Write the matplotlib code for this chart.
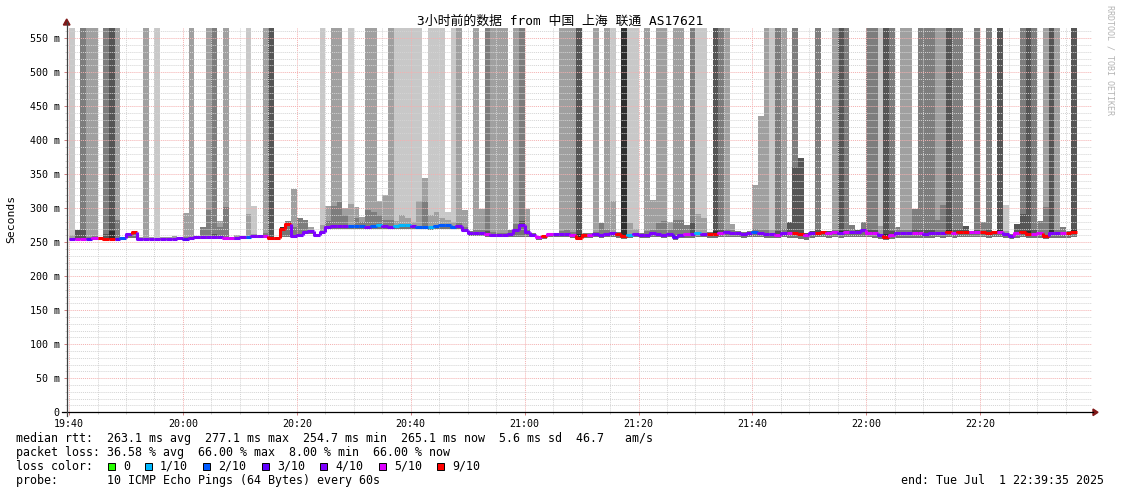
import numpy as np
import matplotlib
matplotlib.use("Agg")
import matplotlib.pyplot as plt
from matplotlib.collections import LineCollection
from matplotlib.patches import Rectangle, Polygon
from matplotlib.lines import Line2D
from matplotlib.ticker import FixedLocator, MultipleLocator, FuncFormatter

# ---------------------------------------------------------------------------
# Daten: ein Wert pro Minute ab 19:40 (Median, Verlust, Rauch-Obergrenzen)
# ---------------------------------------------------------------------------
MEDIAN_MS = [
    255.5, 255.5, 255.5, 255, 256.5, 256, 255.5, 255.5, 255.5, 256,
    262, 264.5, 255.5, 255.5, 255.5, 255.5, 255.5, 255.5, 255.5, 256,
    254.5, 256, 257, 257.8, 257.8, 257.8, 257, 256, 256, 256,
    257, 257.8, 259, 259, 259.5, 256, 256, 270, 276.5, 259,
    261, 265.5, 266, 261, 265.5, 273, 274, 274, 274, 274,
    274, 274, 273, 274, 275, 273.5, 273, 274, 275, 275,
    274, 273, 273, 272, 274, 275, 275, 273, 274.5, 268.5,
    263, 263, 263, 262, 261, 260.8, 260.8, 261.5, 268.5, 276,
    264.7, 261, 257, 259, 262, 262, 261.5, 261.5, 260, 256,
    260, 261, 261.5, 260, 261.5, 263, 262, 259, 261, 262,
    261, 261, 264, 262.5, 261, 262.5, 257.5, 260.5, 262, 262.5,
    264, 262.5, 262, 262, 263, 265.5, 264, 263, 262, 263,
    265.5, 263, 262.5, 261.5, 261, 264, 263, 263, 262, 260,
    263, 264, 264.5, 263, 264.5, 263, 264.5, 265.5, 265, 267.5,
    264, 263, 260, 257, 260, 263, 263, 263.5, 263.5, 263,
    262.5, 263, 264, 263, 265, 263, 264.5, 265.5, 264.5, 264.5,
    264.5, 263, 265, 265, 262, 259, 263.5, 265, 261.5, 262.5,
    263, 259, 263, 263, 263.5, 263, 265,
]

LOSS = [
    4, 5, 5, 3, 5, 9, 9, 9, 3, 2,
    4, 9, 4, 4, 4, 4, 4, 4, 4, 4,
    3, 4, 4, 4, 4, 4, 4, 5, 5, 4,
    4, 2, 4, 4, 5, 9, 9, 9, 9, 4,
    4, 4, 4, 4, 4, 4, 4, 4, 4, 2,
    2, 2, 4, 2, 1, 4, 4, 1, 1, 1,
    4, 2, 2, 1, 2, 2, 2, 2, 4, 4,
    4, 4, 4, 5, 4, 4, 4, 4, 4, 4,
    4, 4, 5, 9, 5, 4, 4, 4, 5, 9,
    9, 5, 4, 4, 4, 4, 9, 9, 1, 4,
    4, 4, 4, 4, 4, 4, 3, 4, 5, 4,
    1, 4, 9, 9, 5, 4, 4, 4, 4, 4,
    2, 4, 4, 4, 5, 4, 5, 9, 9, 5,
    4, 9, 9, 5, 5, 4, 5, 4, 4, 4,
    5, 5, 4, 9, 5, 4, 4, 4, 5, 5,
    4, 4, 4, 4, 9, 5, 9, 9, 5, 5,
    9, 9, 9, 5, 4, 4, 5, 9, 9, 5,
    5, 9, 4, 4, 5, 9, 9,
]

# obere Rauchgrenze (600 = oberhalb des Diagramms)
SMOKE_TOP_MS = [
    600, 268, 600, 600, 600, 258, 600, 600, 600, 258,
    264, 266, 257, 600, 257, 600, 257, 257, 259, 257,
    293, 600, 259, 273, 600, 600, 281, 600, 257, 260,
    258, 600, 304, 260, 600, 600, 257, 272, 281, 328,
    285, 282, 273, 262, 600, 303, 600, 600, 300, 600,
    302, 287, 600, 600, 311, 319, 600, 600, 600, 600,
    600, 600, 344, 600, 600, 600, 294, 600, 600, 297,
    266, 600, 299, 600, 600, 600, 600, 268, 600, 600,
    299, 264, 259, 261, 264, 264, 600, 600, 600, 600,
    263, 263, 600, 278, 600, 600, 265, 600, 600, 600,
    264, 600, 312, 600, 600, 280, 600, 600, 275, 600,
    600, 600, 265, 600, 600, 600, 277, 266, 265, 266,
    334, 435, 600, 600, 600, 600, 280, 600, 374, 263,
    266, 600, 267, 266, 600, 600, 600, 275, 268, 280,
    600, 600, 600, 600, 600, 272, 600, 600, 299, 600,
    600, 600, 600, 600, 600, 600, 600, 274, 266, 600,
    280, 600, 267, 600, 305, 262, 277, 600, 600, 600,
    281, 600, 600, 600, 272, 266, 600,
]

# Grauton der oberen Rauchsaeule (0 = hell ... 4 = dunkel)
SMOKE_SHADE = [
    0, 3, 2, 1, 1, 1, 2, 3, 1, 1,
    4, 4, 1, 1, 1, 0, 1, 1, 1, 1,
    1, 1, 1, 2, 1, 2, 1, 1, 1, 1,
    1, 0, 0, 1, 1, 3, 1, 4, 2, 1,
    2, 2, 1, 1, 0, 1, 1, 1, 1, 0,
    1, 1, 1, 1, 1, 1, 1, 0, 0, 0,
    0, 0, 1, 0, 0, 0, 0, 0, 1, 1,
    2, 1, 1, 2, 1, 1, 1, 2, 1, 2,
    1, 2, 2, 3, 2, 2, 1, 1, 1, 3,
    2, 2, 1, 2, 1, 0, 2, 4, 0, 0,
    2, 1, 1, 1, 1, 1, 1, 1, 2, 2,
    0, 0, 2, 3, 2, 1, 1, 2, 2, 2,
    1, 1, 1, 0, 2, 1, 3, 2, 3, 3,
    3, 2, 3, 3, 1, 3, 2, 2, 3, 2,
    2, 2, 0, 3, 2, 2, 1, 1, 2, 2,
    2, 2, 1, 1, 3, 2, 2, 3, 2, 2,
    2, 2, 2, 3, 0, 2, 3, 2, 3, 2,
    2, 1, 3, 1, 2, 2, 3,
]

# dunklerer Kernrauch oberhalb des Medians (0 = keiner)
SMOKE_MID_MS = [
    260, 0, 268, 258, 259, 0, 262, 266, 283, 0,
    0, 0, 0, 0, 0, 0, 0, 0, 0, 0,
    258, 258, 0, 0, 298, 262, 273, 302, 0, 0,
    0, 291, 262, 0, 263, 258, 0, 0, 278, 272,
    0, 0, 0, 0, 276, 281, 303, 309, 290, 306,
    285, 280, 298, 295, 290, 282, 283, 281, 290, 285,
    280, 310, 311, 290, 294, 286, 282, 280, 279, 272,
    0, 268, 268, 266, 265, 264, 264, 0, 277, 281,
    269, 0, 0, 0, 0, 0, 266, 268, 265, 262,
    0, 0, 265, 0, 268, 311, 0, 263, 279, 270,
    0, 266, 268, 279, 281, 268, 283, 283, 0, 280,
    291, 285, 0, 266, 268, 270, 268, 0, 0, 0,
    270, 268, 268, 268, 266, 270, 0, 361, 0, 0,
    0, 268, 0, 0, 268, 266, 268, 0, 0, 270,
    270, 268, 274, 262, 266, 0, 268, 268, 270, 268,
    268, 268, 283, 305, 270, 268, 268, 0, 0, 268,
    0, 268, 0, 268, 266, 0, 0, 292, 266, 268,
    0, 302, 268, 268, 0, 0, 270,
]

# untere Rauchgrenze
SMOKE_LOW_MS = [
    254, 254, 254, 253, 254, 254, 253, 253, 254, 254,
    256, 256, 254, 254, 254, 254, 254, 254, 254, 254,
    253, 254, 255, 255, 255, 255, 255, 254, 254, 254,
    255, 255, 256, 256, 256, 254, 254, 257, 257, 257,
    258, 262, 262, 258, 262, 270, 270, 270, 270, 270,
    270, 269, 269, 270, 270, 269, 269, 270, 270, 270,
    270, 269, 269, 268, 270, 270, 270, 269, 270, 265,
    259, 259, 259, 258, 257, 257, 257, 257, 258, 258,
    258, 257, 254, 255, 257, 257, 257, 257, 256, 254,
    256, 256, 257, 256, 257, 257, 256, 255, 256, 257,
    256, 256, 258, 257, 256, 257, 254, 256, 256, 256,
    257, 257, 256, 256, 257, 258, 257, 257, 256, 257,
    258, 257, 256, 256, 256, 257, 256, 256, 255, 254,
    256, 257, 257, 256, 257, 256, 257, 258, 258, 258,
    257, 256, 255, 254, 255, 256, 256, 256, 256, 256,
    256, 256, 257, 256, 257, 256, 257, 258, 257, 257,
    257, 256, 257, 257, 256, 255, 256, 257, 256, 256,
    256, 255, 256, 256, 256, 256, 257,
]

TIME_TICKS = [0, 20, 40, 60, 80, 100, 120, 140, 160]
TIME_LABELS = ["19:40", "20:00", "20:20", "20:40", "21:00",
               "21:20", "21:40", "22:00", "22:20"]

LOSS_STEPS = [0, 1, 2, 3, 4, 5, 9]
LOSS_NAMES = ["0", "1/10", "2/10", "3/10", "4/10", "5/10", "9/10"]

SHADES = ["#c8c8c8", "#a0a0a0", "#7d7d7d", "#555555", "#2e2e2e"]
LOSS_COLORS = {0: "#26ff00", 1: "#00b8ff", 2: "#0059ff", 3: "#5e00ff",
               4: "#7e00ff", 5: "#dd00ff", 9: "#ff0000"}

W, H = 1121, 494
MONO = "DejaVu Sans Mono"


def fx(px):
    return px / W


def fy(py):
    return 1 - py / H


fig = plt.figure(figsize=(W / 100, H / 100), dpi=100)
fig.patch.set_facecolor("white")
ax = fig.add_axes([fx(66.7), fy(412.3), 1025 / W, 384.3 / H])

med = np.array(MEDIAN_MS, dtype=float)
top = np.array(SMOKE_TOP_MS, dtype=float)
mid = np.array(SMOKE_MID_MS, dtype=float)
low = np.array(SMOKE_LOW_MS, dtype=float)
shade = np.array(SMOKE_SHADE)
x = np.arange(len(med))

# Rauch: obere Saeule, Kern, unterer Rand
ax.bar(x, top - med, bottom=med, width=1, align="edge",
       color=[SHADES[s] for s in shade], linewidth=0, zorder=1)
m = mid > 0
ax.bar(x[m], mid[m] - med[m], bottom=med[m], width=1, align="edge",
       color=[SHADES[min(s + 1, 4)] for s in shade[m]], linewidth=0, zorder=1.1)
ax.bar(x, med - low, bottom=low, width=1, align="edge",
       color="#747474", linewidth=0, zorder=1.2)

# Median als Stufenlinie, eingefaerbt nach Paketverlust
segs = []
for i in range(len(med)):
    prev = med[i - 1] if i > 0 else med[i]
    segs.append([(x[i], prev), (x[i], med[i]), (x[i] + 1, med[i])])
lc = LineCollection(segs, colors=[LOSS_COLORS[l] for l in LOSS],
                    linewidths=2.2, zorder=4, capstyle="butt")
ax.add_collection(lc)

ax.set_xlim(-0.417, 179.583)
ax.set_ylim(0, 565)

ax.xaxis.set_major_locator(FixedLocator(TIME_TICKS))
ax.xaxis.set_minor_locator(MultipleLocator(5))
ax.set_xticklabels(TIME_LABELS, family=MONO, fontsize=7.2)
ax.yaxis.set_major_locator(MultipleLocator(50))
ax.yaxis.set_minor_locator(MultipleLocator(10))
ax.yaxis.set_major_formatter(FuncFormatter(lambda v, p: "0" if v == 0 else f"{int(v)} m"))
for lab in ax.get_yticklabels():
    lab.set_family(MONO)
    lab.set_fontsize(7.2)

ax.set_axisbelow(False)
ax.grid(which="minor", color="#d4d4d4", linestyle=(0, (1, 1)), linewidth=0.7)
ax.grid(which="major", color="#f4b0b0", linestyle=(0, (1, 1)), linewidth=0.7)
ax.tick_params(which="major", length=2.5, width=0.7, color="#d08080", pad=2.5)
ax.tick_params(which="minor", length=1.5, width=0.6, color="#c8c8c8")
ax.tick_params(axis="x", which="major", pad=2)

for s in ["top", "right", "left", "bottom"]:
    ax.spines[s].set_visible(False)

# Achsen mit Pfeilen wie bei rrdtool
fig.lines.append(Line2D([fx(62), fx(1093)], [fy(412.3), fy(412.3)],
                        color="black", linewidth=0.9, transform=fig.transFigure))
fig.lines.append(Line2D([fx(66.7), fx(66.7)], [fy(416), fy(22)],
                        color="#404040", linewidth=0.9, transform=fig.transFigure))
fig.patches.append(Polygon([(fx(1093), fy(409)), (fx(1098), fy(412.3)), (fx(1093), fy(415.6))],
                           closed=True, color="#801818", transform=fig.transFigure))
fig.patches.append(Polygon([(fx(63.4), fy(25)), (fx(66.7), fy(19)), (fx(70), fy(25))],
                           closed=True, color="#801818", transform=fig.transFigure))

# Titel und Beschriftungen
fig.text(0.5, fy(21), "3小时前的数据 from 中国 上海 联通 AS17621",
         family=[MONO, "Noto Sans CJK SC"], fontsize=9.3, ha="center", va="center")
fig.text(fx(11), fy(219), "Seconds", family=MONO, fontsize=8.2,
         rotation=90, ha="center", va="center")
fig.text(fx(1110), fy(60), "RRDTOOL / TOBI OETIKER", family=MONO, fontsize=6.0,
         rotation=270, ha="center", va="center", color="#b4b4b4")

# Legende unten
txt = dict(family=MONO, fontsize=8.4, va="center")
fig.text(fx(16), fy(438),
         "median rtt:  263.1 ms avg  277.1 ms max  254.7 ms min  265.1 ms now  5.6 ms sd  46.7   am/s",
         **txt)
fig.text(fx(16), fy(452),
         "packet loss: 36.58 % avg  66.00 % max  8.00 % min  66.00 % now", **txt)
fig.text(fx(16), fy(466), "loss color:", **txt)
box_x = [108, 145, 203, 262, 320, 379, 437]
for bx, step, name in zip(box_x, LOSS_STEPS, LOSS_NAMES):
    fig.patches.append(Rectangle((fx(bx), fy(470)), 7 / W, 7 / H,
                                 facecolor=LOSS_COLORS[step], edgecolor="black",
                                 linewidth=0.7, transform=fig.transFigure))
    fig.text(fx(bx + 15), fy(466), name, **txt)
fig.text(fx(16), fy(480), "probe:       10 ICMP Echo Pings (64 Bytes) every 60s", **txt)
fig.text(fx(1104), fy(480), "end: Tue Jul  1 22:39:35 2025", ha="right",
         family=MONO, fontsize=8.4, va="center")

fig.savefig("out.png", dpi=100)
